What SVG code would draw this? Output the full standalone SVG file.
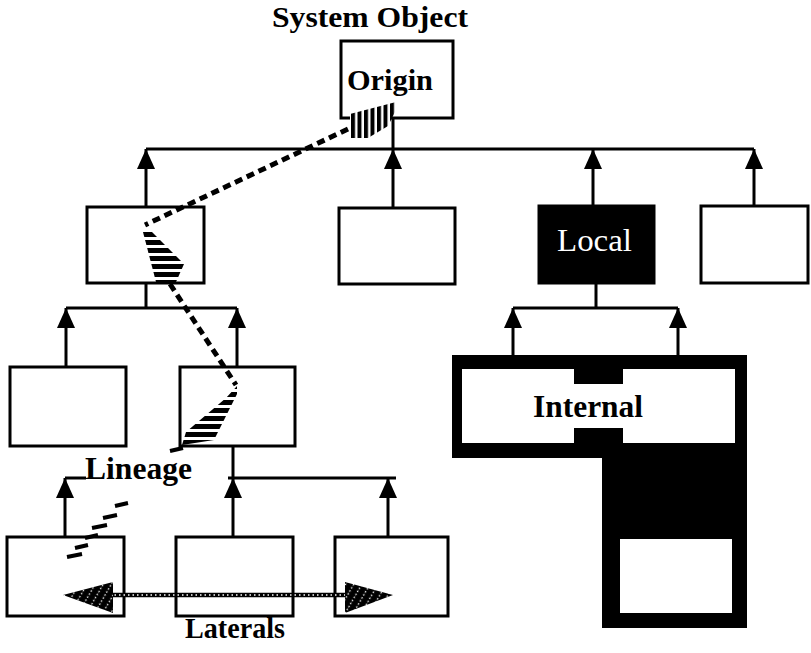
<svg xmlns="http://www.w3.org/2000/svg" width="811" height="653" viewBox="0 0 811 653">
<style>
.box{fill:#fff;stroke:#000;stroke-width:3}
.ln{fill:none;stroke:#000;stroke-width:3}
.arr{fill:none;stroke:#000;stroke-width:3;marker-end:url(#tri)}
.lbl{font-family:"Liberation Serif","Times New Roman",serif;font-weight:bold;fill:#000}
.dash{fill:none;stroke:#000;stroke-width:5;stroke-dasharray:8 5}
.bar{stroke:#000;stroke-width:4}
</style>
<defs>
<marker id="tri" markerUnits="userSpaceOnUse" markerWidth="20" markerHeight="18" viewBox="0 0 20 18" refX="20" refY="9" orient="auto">
<path d="M0,0 L20,9 L0,18 Z" fill="#000"/>
</marker>
<pattern id="vstripe" width="6.5" height="10" patternUnits="userSpaceOnUse">
<rect width="6.5" height="10" fill="#fff"/><rect width="4" height="10" fill="#000"/>
</pattern>
<pattern id="hstripe" width="10" height="8" patternUnits="userSpaceOnUse">
<rect width="10" height="8" fill="#fff"/><rect width="10" height="5" fill="#000"/>
</pattern>
<pattern id="hatch" width="7" height="7" patternUnits="userSpaceOnUse" patternTransform="rotate(30)">
<rect width="7" height="7" fill="#000"/>
<line x1="3.5" y1="0" x2="3.5" y2="7" stroke="#fff" stroke-width="1.3" stroke-dasharray="1.5 2"/>
</pattern>
</defs>
<rect width="811" height="653" fill="#fff"/>

<g id="connectors">
<path class="ln" d="M393,118 V149"/>
<path class="ln" d="M146,149 H754"/>
<path class="arr" d="M146,207 V149"/>
<path class="arr" d="M393,208 V149"/>
<path class="arr" d="M593,206 V149"/>
<path class="arr" d="M754,206 V149"/>
<path class="ln" d="M146,283 V308"/>
<path class="ln" d="M66,308 H237"/>
<path class="arr" d="M66,367 V308"/>
<path class="arr" d="M237,367 V308"/>
<path class="ln" d="M596,283 V308"/>
<path class="ln" d="M513,308 H678"/>
<path class="arr" d="M513,355 V308"/>
<path class="arr" d="M678,355 V308"/>
<path class="ln" d="M233,446 V478"/>
<path class="ln" d="M65,478 H86"/>
<path class="ln" d="M228,478 H396"/>
<path class="arr" d="M65,537 V478"/>
<path class="arr" d="M233,537 V478"/>
<path class="arr" d="M388,537 V478"/>
</g>

<g id="system-object">
<text class="lbl" x="272" y="27" font-size="29" textLength="196" lengthAdjust="spacingAndGlyphs">System Object</text>
</g>
<g id="origin">
<rect class="box" x="341" y="41" width="112" height="77"/>
<text class="lbl" x="347" y="90" font-size="30" textLength="86" lengthAdjust="spacingAndGlyphs">Origin</text>
</g>
<g id="node-a"><rect class="box" x="87" y="207" width="117" height="76"/></g>
<g id="node-b"><rect class="box" x="339" y="208" width="116" height="76"/></g>
<g id="local">
<rect x="539" y="206" width="115" height="77" fill="#000" stroke="#000" stroke-width="3"/>
<text x="557" y="251" font-size="32" font-family="Liberation Serif, Times New Roman, serif" fill="#fff" textLength="75" lengthAdjust="spacingAndGlyphs">Local</text>
</g>
<g id="node-d"><rect class="box" x="701" y="206" width="107" height="77"/></g>
<g id="node-e"><rect class="box" x="10" y="367" width="116" height="79"/></g>
<g id="node-f"><rect class="box" x="180" y="367" width="115" height="79"/></g>
<g id="internal">
<path d="M452,355 H747 V628 H602 V458 H452 Z" fill="#000"/>
<rect x="462" y="369" width="273" height="74" fill="#fff"/>
<rect x="574" y="369" width="49" height="15" fill="#000"/>
<rect x="574" y="428" width="49" height="15" fill="#000"/>
<rect x="620" y="539" width="112" height="74" fill="#fff"/>
<text class="lbl" x="533" y="417" font-size="31" textLength="110" lengthAdjust="spacingAndGlyphs">Internal</text>
</g>
<g id="node-g"><rect class="box" x="7" y="537" width="117" height="79"/></g>
<g id="node-h"><rect class="box" x="176" y="537" width="117" height="79"/></g>
<g id="node-i"><rect class="box" x="335" y="537" width="113" height="79"/></g>

<g id="lineage">
<polygon points="350,114 396,102 396,110 388,126 368,138 350,138" fill="url(#vstripe)"/>
<path class="dash" d="M348,129 L145,225"/>
<polygon points="143,232 152,232 184,264 176,282 156,282" fill="url(#hstripe)"/>
<path class="dash" d="M170,284 L236,385"/>
<polygon points="237,386 237,394 214,440 182,445 186,432 226,398" fill="url(#hstripe)"/>
<path class="bar" d="M170,451 L183,448"/>
<path class="bar" d="M115,506 L128,503"/>
<path class="bar" d="M103,518 L117,515"/>
<path class="bar" d="M92,528 L107,525"/>
<path class="bar" d="M85,538 L98,535"/>
<path class="bar" d="M75,548 L88,545"/>
<path class="bar" d="M67,557 L82,554"/>
<text class="lbl" x="85" y="479" font-size="31" textLength="107" lengthAdjust="spacingAndGlyphs">Lineage</text>
</g>

<g id="laterals">
<line x1="110" y1="595" x2="348" y2="595" stroke="#000" stroke-width="4.5"/>
<line x1="110" y1="595" x2="348" y2="595" stroke="#fff" stroke-width="1.3" stroke-dasharray="1.5 3"/>
<polygon points="63,595 113,582 113,613" fill="url(#hatch)"/>
<polygon points="393,595 345,582 345,613" fill="url(#hatch)"/>
<text class="lbl" x="235" y="638" font-size="29" text-anchor="middle" textLength="100" lengthAdjust="spacingAndGlyphs">Laterals</text>
</g>
</svg>
